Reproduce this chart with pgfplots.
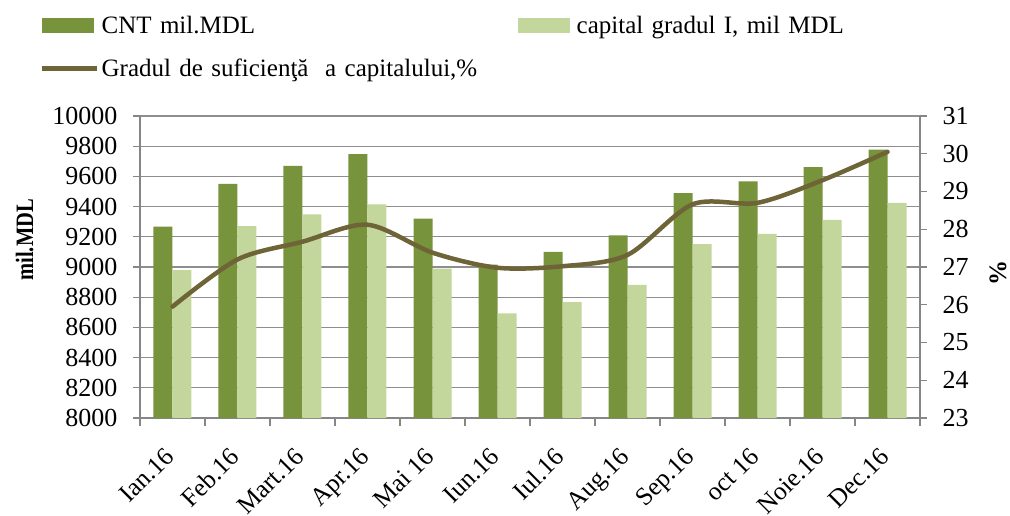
\documentclass[border=0pt]{standalone}
\usepackage{fontspec}
\setmainfont{Liberation Serif}
\usepackage{graphicx}
\usepackage{pgfplots}
\pgfplotsset{compat=1.18}
\definecolor{cntc}{HTML}{77933C}
\definecolor{capc}{HTML}{C3D69B}
\definecolor{linc}{HTML}{6E6437}
\definecolor{gridc}{HTML}{8E8E8E}
\definecolor{axc}{HTML}{868686}
\begin{document}
\begin{tikzpicture}
\begin{axis}[
  at={(0pt,0pt)}, anchor=south west,
  width=780pt, height=302pt, scale only axis,
  xmin=-0.5, xmax=11.5, ymin=8000, ymax=10000,
  ytick={8000,8200,...,10000},
  scaled y ticks=false,
  xtick={0,...,11},
  xticklabels={Ian.16,Feb.16,Mart.16,Apr.16,Mai 16,Iun.16,Iul.16,Aug.16,Sep.16,oct 16,Noie.16,Dec.16},
  minor xtick={-0.5,0.5,...,11.5},
  major x tick style={draw=none},
  minor tick length=8pt, major tick length=7pt,
  tick align=outside,
  tick style={axc, line width=1.2pt},
  axis x line*=bottom, axis y line*=left,
  axis line style={axc, line width=1.3pt, -},
  ymajorgrids, grid style={gridc, line width=1.2pt},
  ybar=0pt, bar width=19pt,
  /pgf/number format/assume math mode=true,
  /pgf/number format/1000 sep={},
  yticklabel style={font=\fontsize{26}{30}\selectfont, xshift=-12pt},
  xticklabel style={font=\fontsize{25.5}{30}\selectfont, xshift=-9pt, yshift=-21pt, rotate=45, anchor=north east, inner sep=0pt},
  ylabel={\scalebox{0.82}[1]{\bfseries mil.MDL}},
  ylabel style={font=\fontsize{25}{30}\selectfont, at={(ticklabel cs:0.59)}},
  ylabel shift=12pt,
  legend columns=2,
  legend style={at={(axis description cs:0,1)}, anchor=north west, xshift=-100pt, yshift=102pt,
    draw=none, fill=none, inner sep=0pt, font=\fontsize{25}{30}\selectfont,
    row sep=20pt, /tikz/every even column/.append style={column sep=4pt},
    nodes={inner sep=2pt, text width=410pt, align=left}},
  legend cell align=left,
]
\addplot[fill=cntc, draw=none, legend image code/.code={\fill[cntc] (0pt,-7.5pt) rectangle (52pt,7.5pt);}]
  coordinates {(0,9267) (1,9550) (2,9670) (3,9748) (4,9320) (5,9015) (6,9100) (7,9210) (8,9490) (9,9567) (10,9662) (11,9778)};
\addlegendentry{CNT mil.MDL}
\addplot[fill=capc, draw=none, legend image code/.code={\fill[capc] (0pt,-7.5pt) rectangle (52pt,7.5pt);}]
  coordinates {(0,8980) (1,9270) (2,9348) (3,9415) (4,8990) (5,8693) (6,8768) (7,8882) (8,9152) (9,9220) (10,9312) (11,9424)};
\addlegendentry{\hspace{5pt}capital gradul I, mil MDL}
\addlegendimage{legend image code/.code={\draw[linc, line width=4.5pt] (0pt,0pt) -- (55pt,0pt);}}
\addlegendentry{Gradul de suficienţă\ \ a capitalului,\%}
\end{axis}
\begin{axis}[
  at={(0pt,0pt)}, anchor=south west,
  width=780pt, height=302pt, scale only axis,
  xmin=-0.5, xmax=11.5, ymin=23, ymax=31,
  ytick={23,...,31},
  axis x line=none, axis y line*=right,
  axis line style={axc, line width=1.3pt, -},
  tick align=outside, major tick length=7pt,
  tick style={axc, line width=1.2pt},
  /pgf/number format/assume math mode=true,
  yticklabel style={font=\fontsize{26}{30}\selectfont, xshift=12pt},
  ylabel={\bfseries\%},
  ylabel style={font=\fontsize{25}{30}\selectfont, at={(ticklabel cs:0.48)}},
  ylabel shift=14pt,
]
\addplot[linc, line width=4.5pt, smooth, line cap=round]
  coordinates {(0,25.95) (1,27.2) (2,27.67) (3,28.12) (4,27.38) (5,26.98) (6,27.02) (7,27.32) (8,28.66) (9,28.7) (10,29.3) (11,30.05)};
\end{axis}
\pgfresetboundingbox
\path[use as bounding box] (-140pt,-97pt) rectangle (870pt,418pt);
\end{tikzpicture}
\end{document}
